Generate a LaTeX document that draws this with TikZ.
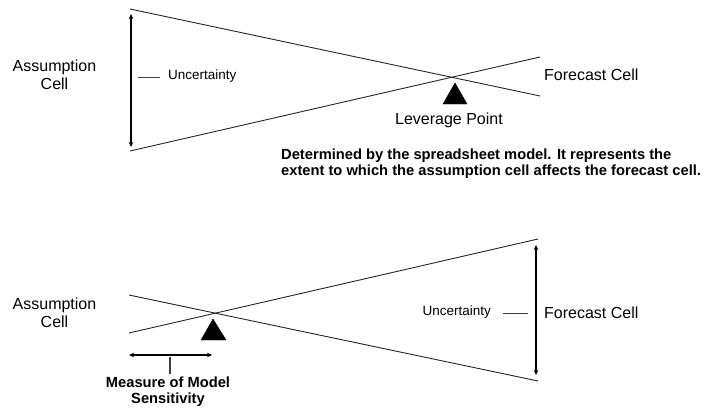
\documentclass[tikz,border=0pt]{standalone}
\usepackage{fontspec}
\setmainfont{Liberation Sans}
\usetikzlibrary{arrows.meta}
\begin{document}
\begin{tikzpicture}[x=1pt,y=-1pt,
  thinline/.style={line width=0.9pt, draw=black!85},
  dimarrow/.style={line width=1.4pt, {Stealth[length=5pt,width=4.5pt]}-{Stealth[length=5pt,width=4.5pt]}},
  tick/.style={line width=1pt, draw=black!75},
  bigtext/.style={font=\fontsize{16}{18}\selectfont, align=center, inner sep=0pt},
  smalltext/.style={font=\fontsize{13.5}{16}\selectfont, inner sep=0pt},
  boldtext/.style={font=\fontsize{14.7}{16.3}\selectfont\bfseries, inner sep=0pt},
  fulcrum/.style={fill=black}
]
\useasboundingbox (0,0) rectangle (704,410);

% ---------- top diagram ----------
\coordinate (t1) at (130,9);
\coordinate (t2) at (540,96);
\coordinate (t3) at (130,151);
\coordinate (t4) at (540,57);
\draw[thinline] (t1) -- (t2);
\draw[thinline] (t3) -- (t4);
\coordinate (ta1) at (131,14);
\coordinate (ta2) at (131,147);
\draw[dimarrow] (ta1) -- (ta2);
\coordinate (td1) at (138,77);
\coordinate (td2) at (160,77);
\draw[tick] (td1) -- (td2);
\node[smalltext, anchor=west] (tunc) at (168,76) {Uncertainty};
\node[bigtext] (tass) at (54.5,75) {Assumption\\Cell};
\node[bigtext, anchor=west] (tfor) at (544,75) {Forecast Cell};
\coordinate (tp) at (455,83);
\coordinate (tpl) at (443,104);
\coordinate (tpr) at (467,104);
\filldraw[fulcrum] (tp) -- (tpl) -- (tpr) -- cycle;
\node[bigtext] (tlev) at (449,120) {Leverage Point};
\node[boldtext, anchor=north west, align=left] (tdesc) at (281,148.5)
  {Determined by the spreadsheet model. It represents the\\extent to which the assumption cell affects the forecast cell.};

% ---------- bottom diagram ----------
\coordinate (b1) at (129,295);
\coordinate (b2) at (538,381);
\coordinate (b3) at (129,333);
\coordinate (b4) at (538,239);
\draw[thinline] (b1) -- (b2);
\draw[thinline] (b3) -- (b4);
\coordinate (bp) at (213,319);
\coordinate (bpl) at (201,340);
\coordinate (bpr) at (226,340);
\filldraw[fulcrum] (bp) -- (bpl) -- (bpr) -- cycle;
\coordinate (bh1) at (129,355);
\coordinate (bh2) at (212,355);
\draw[dimarrow] (bh1) -- (bh2);
\coordinate (bt1) at (170,357);
\coordinate (bt2) at (170,374);
\draw[tick, line width=1.4pt] (bt1) -- (bt2);
\node[boldtext, align=center] (bmeas) at (168,392) {Measure of Model\\Sensitivity};
\node[bigtext] (bass) at (54.5,313) {Assumption\\Cell};
\coordinate (ba1) at (536,245);
\coordinate (ba2) at (536,375);
\draw[dimarrow] (ba1) -- (ba2);
\coordinate (bd1) at (503,313);
\coordinate (bd2) at (528,313);
\draw[tick] (bd1) -- (bd2);
\node[smalltext, anchor=east] (bunc) at (491,312) {Uncertainty};
\node[bigtext, anchor=west] (bfor) at (544,313) {Forecast Cell};
\end{tikzpicture}
\end{document}
